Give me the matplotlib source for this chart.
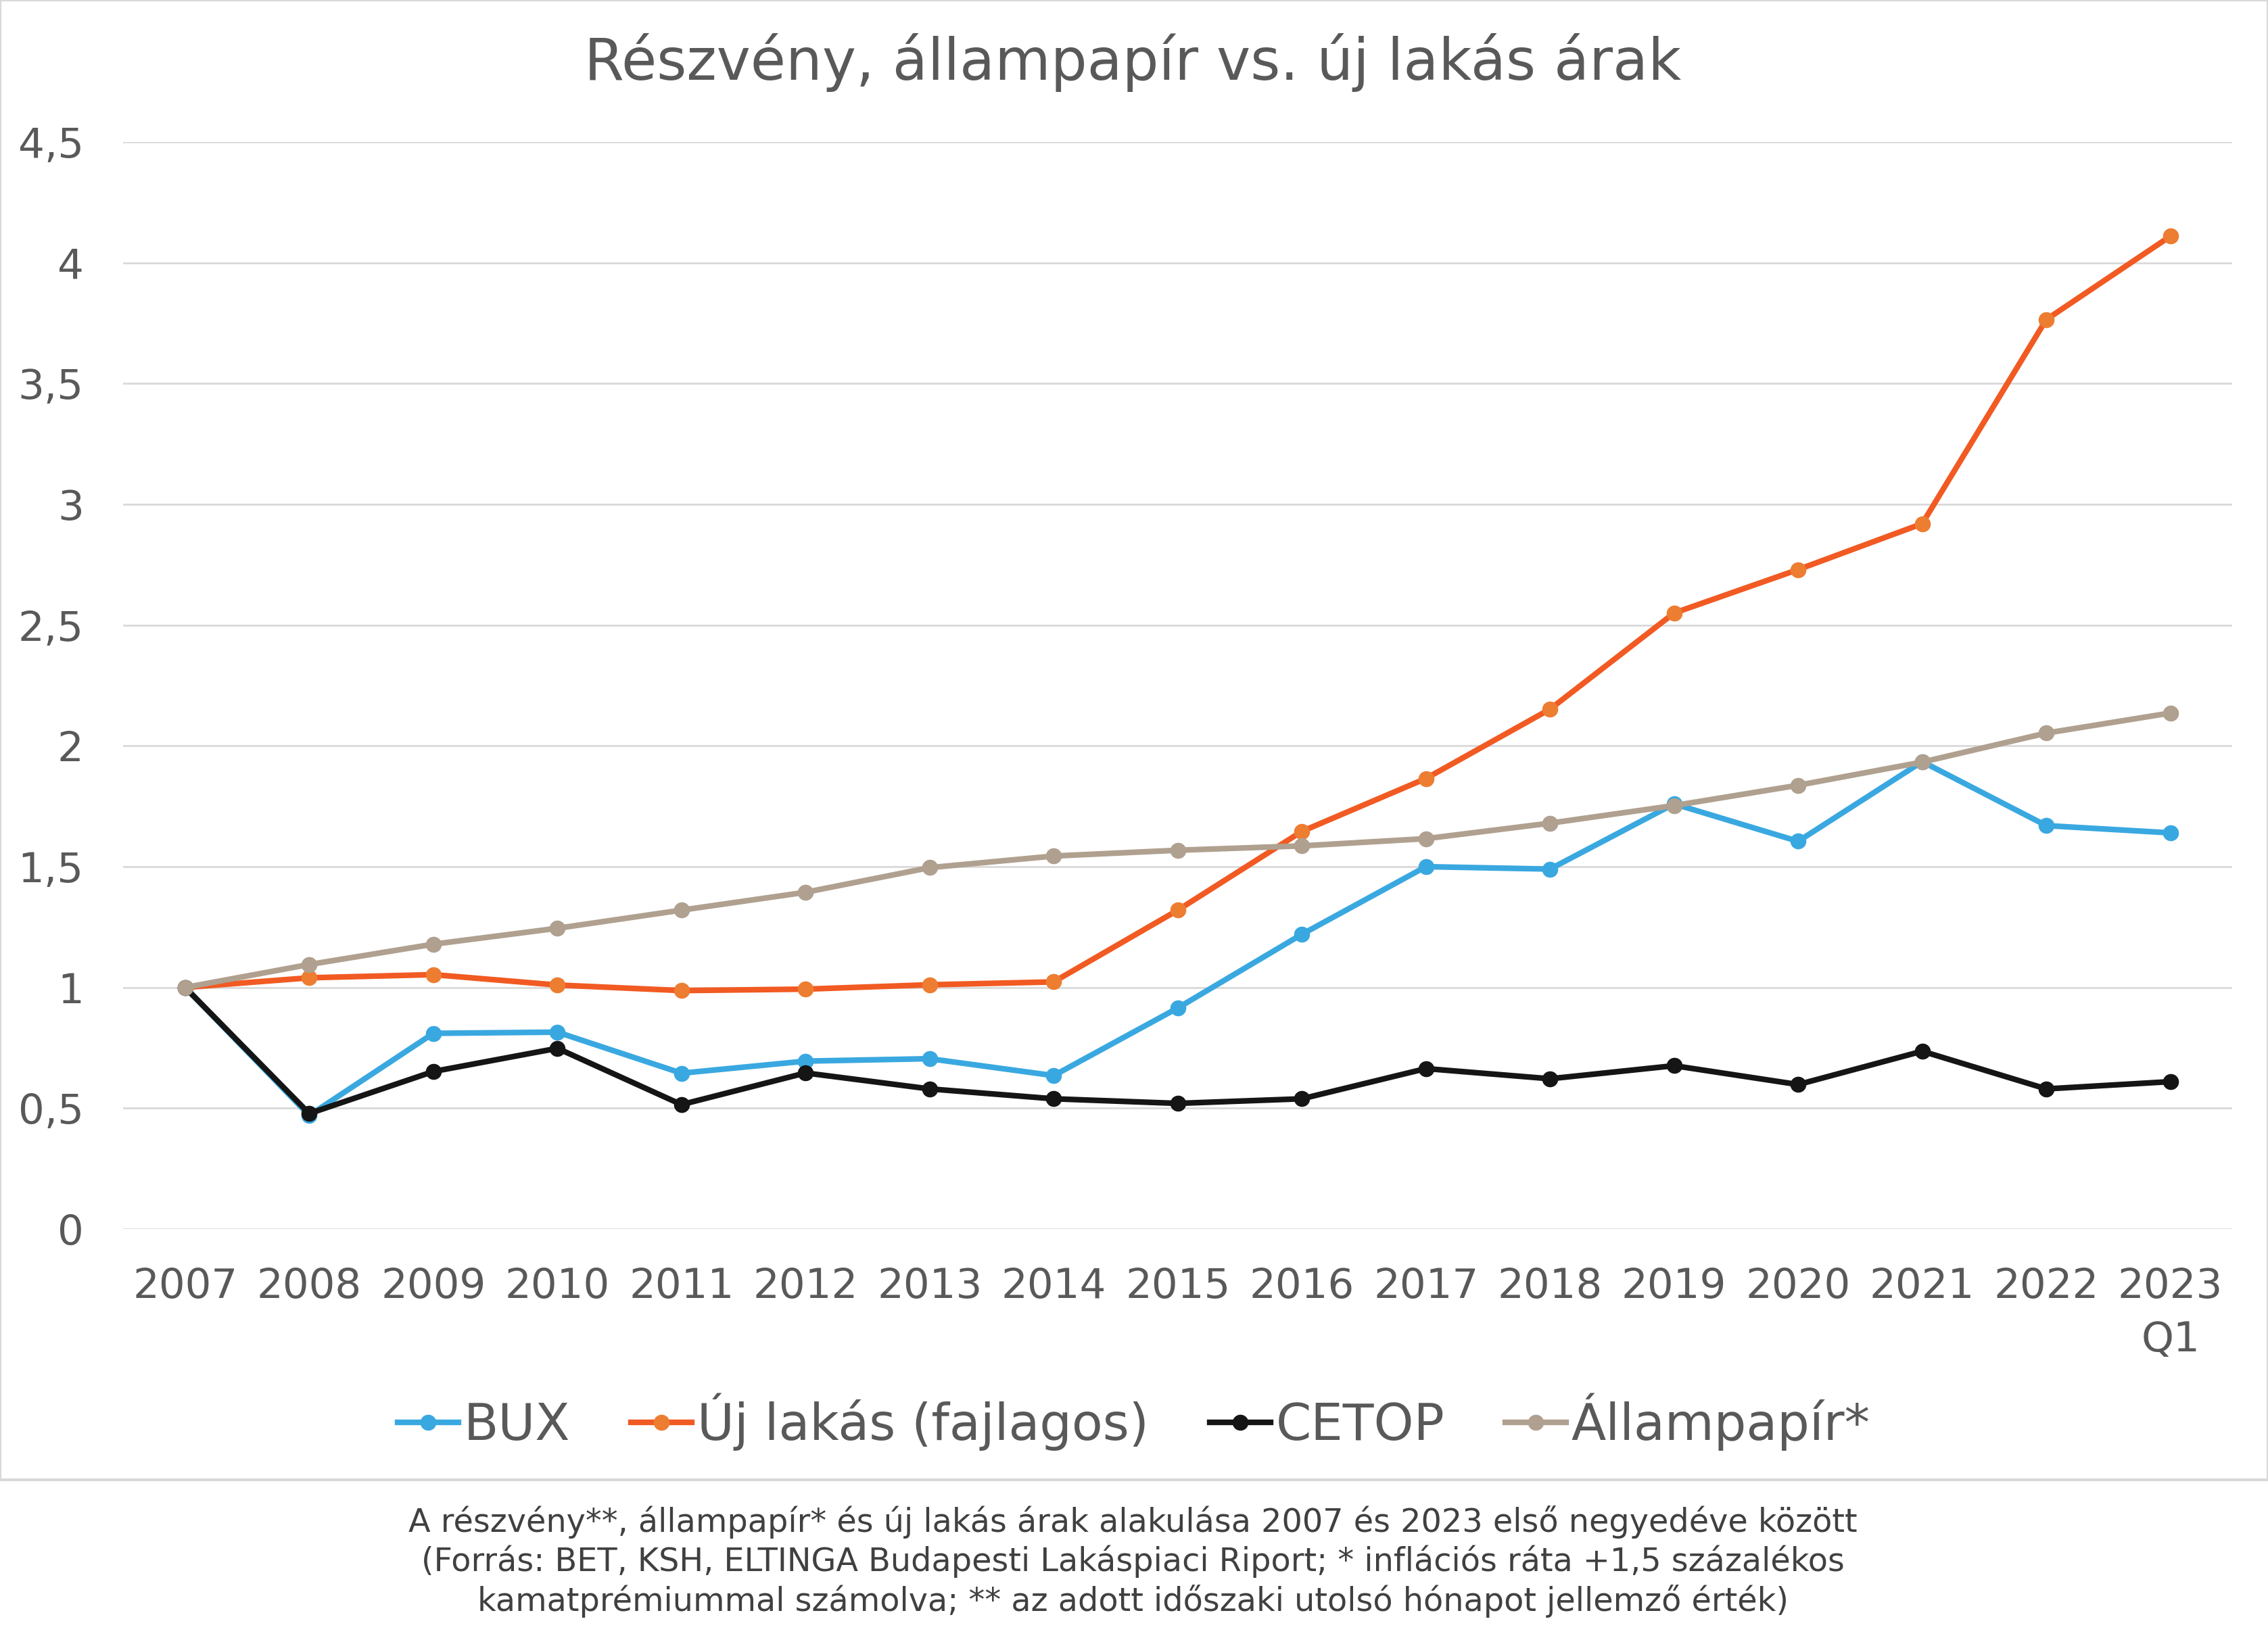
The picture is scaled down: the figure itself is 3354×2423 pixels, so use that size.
import matplotlib.pyplot as plt
from matplotlib.patches import Rectangle

years = ['2007', '2008', '2009', '2010', '2011', '2012', '2013', '2014', '2015',
         '2016', '2017', '2018', '2019', '2020', '2021', '2022', '2023\nQ1']

bux = [1.0, 0.47, 0.81, 0.815, 0.645, 0.695, 0.705, 0.635, 0.915,
       1.22, 1.50, 1.49, 1.76, 1.605, 1.935, 1.67, 1.64]
uj_lakas = [1.0, 1.04, 1.053, 1.01, 0.987, 0.993, 1.011, 1.023, 1.32,
            1.646, 1.865, 2.152, 2.55, 2.73, 2.92, 3.765, 4.11]
cetop = [1.0, 0.478, 0.652, 0.748, 0.515, 0.646, 0.58, 0.539, 0.52,
         0.539, 0.664, 0.622, 0.676, 0.598, 0.736, 0.58, 0.61]
allampapir = [1.0, 1.095, 1.179, 1.245, 1.32, 1.394, 1.496, 1.544, 1.568,
              1.586, 1.616, 1.68, 1.753, 1.837, 1.933, 2.053, 2.136]

yticks = [0, 0.5, 1, 1.5, 2, 2.5, 3, 3.5, 4, 4.5]
ytick_labels = ['0', '0,5', '1', '1,5', '2', '2,5', '3', '3,5', '4', '4,5']

plt.rcParams['font.family'] = ['DejaVu Sans']
txt = '#595959'

fig = plt.figure(figsize=(16.77, 12.115), dpi=200)
ax = fig.add_axes([0.0543, 0.2497, 0.930, 0.6636])

x = range(len(years))
lw, ms = 3.0, 7.5
ax.plot(x, bux, color='#3AA8E0', lw=lw, marker='o', ms=ms, mfc='#3AA8E0', mec='#3AA8E0', label='BUX')
ax.plot(x, uj_lakas, color='#F15A22', lw=lw, marker='o', ms=ms, mfc='#ED7D31', mec='#ED7D31', label='Új lakás (fajlagos)')
ax.plot(x, cetop, color='#151515', lw=lw, marker='o', ms=ms, mfc='#151515', mec='#151515', label='CETOP')
ax.plot(x, allampapir, color='#B0A08F', lw=lw, marker='o', ms=ms, mfc='#B0A08F', mec='#B0A08F', label='Állampapír*')

ax.set_xlim(-0.5, len(years) - 0.5)
ax.set_ylim(0, 4.5)
ax.set_xticks(list(x))
ax.set_xticklabels(years, fontsize=22, color=txt, linespacing=1.45)
ax.set_yticks(yticks)
ax.set_yticklabels(ytick_labels, fontsize=22, color=txt)
ax.tick_params(axis='both', length=0)
ax.tick_params(axis='x', pad=20)
ax.tick_params(axis='y', pad=21)
ax.grid(axis='y', color='#d9d9d9', lw=1.0)
ax.set_axisbelow(True)
for s in ax.spines.values():
    s.set_visible(False)

fig.text(0.4995, 0.962, 'Részvény, állampapír vs. új lakás árak', ha='center', va='center',
         fontsize=30.5, color=txt)

fig.legend(loc='center', bbox_to_anchor=(0.5, 0.132), ncol=4, frameon=False,
           fontsize=27, handlelength=1.2, handletextpad=0.1, columnspacing=1.2,
           labelcolor=txt)

fig.patches.append(Rectangle((0.0, 0.0966), 1.0, 0.9034, transform=fig.transFigure,
                             fill=False, edgecolor='#d9d9d9', lw=1.5))

caption = ('A részvény**, állampapír* és új lakás árak alakulása 2007 és 2023 első negyedéve között\n'
           '(Forrás: BET, KSH, ELTINGA Budapesti Lakáspiaci Riport; * inflációs ráta +1,5 százalékos\n'
           'kamatprémiummal számolva; ** az adott időszaki utolsó hónapot jellemző érték)')
fig.text(0.4995, 0.0466, caption, ha='center', va='center', fontsize=17.2,
         color='#404040', linespacing=1.25)

fig.savefig('out.png', dpi=200)
